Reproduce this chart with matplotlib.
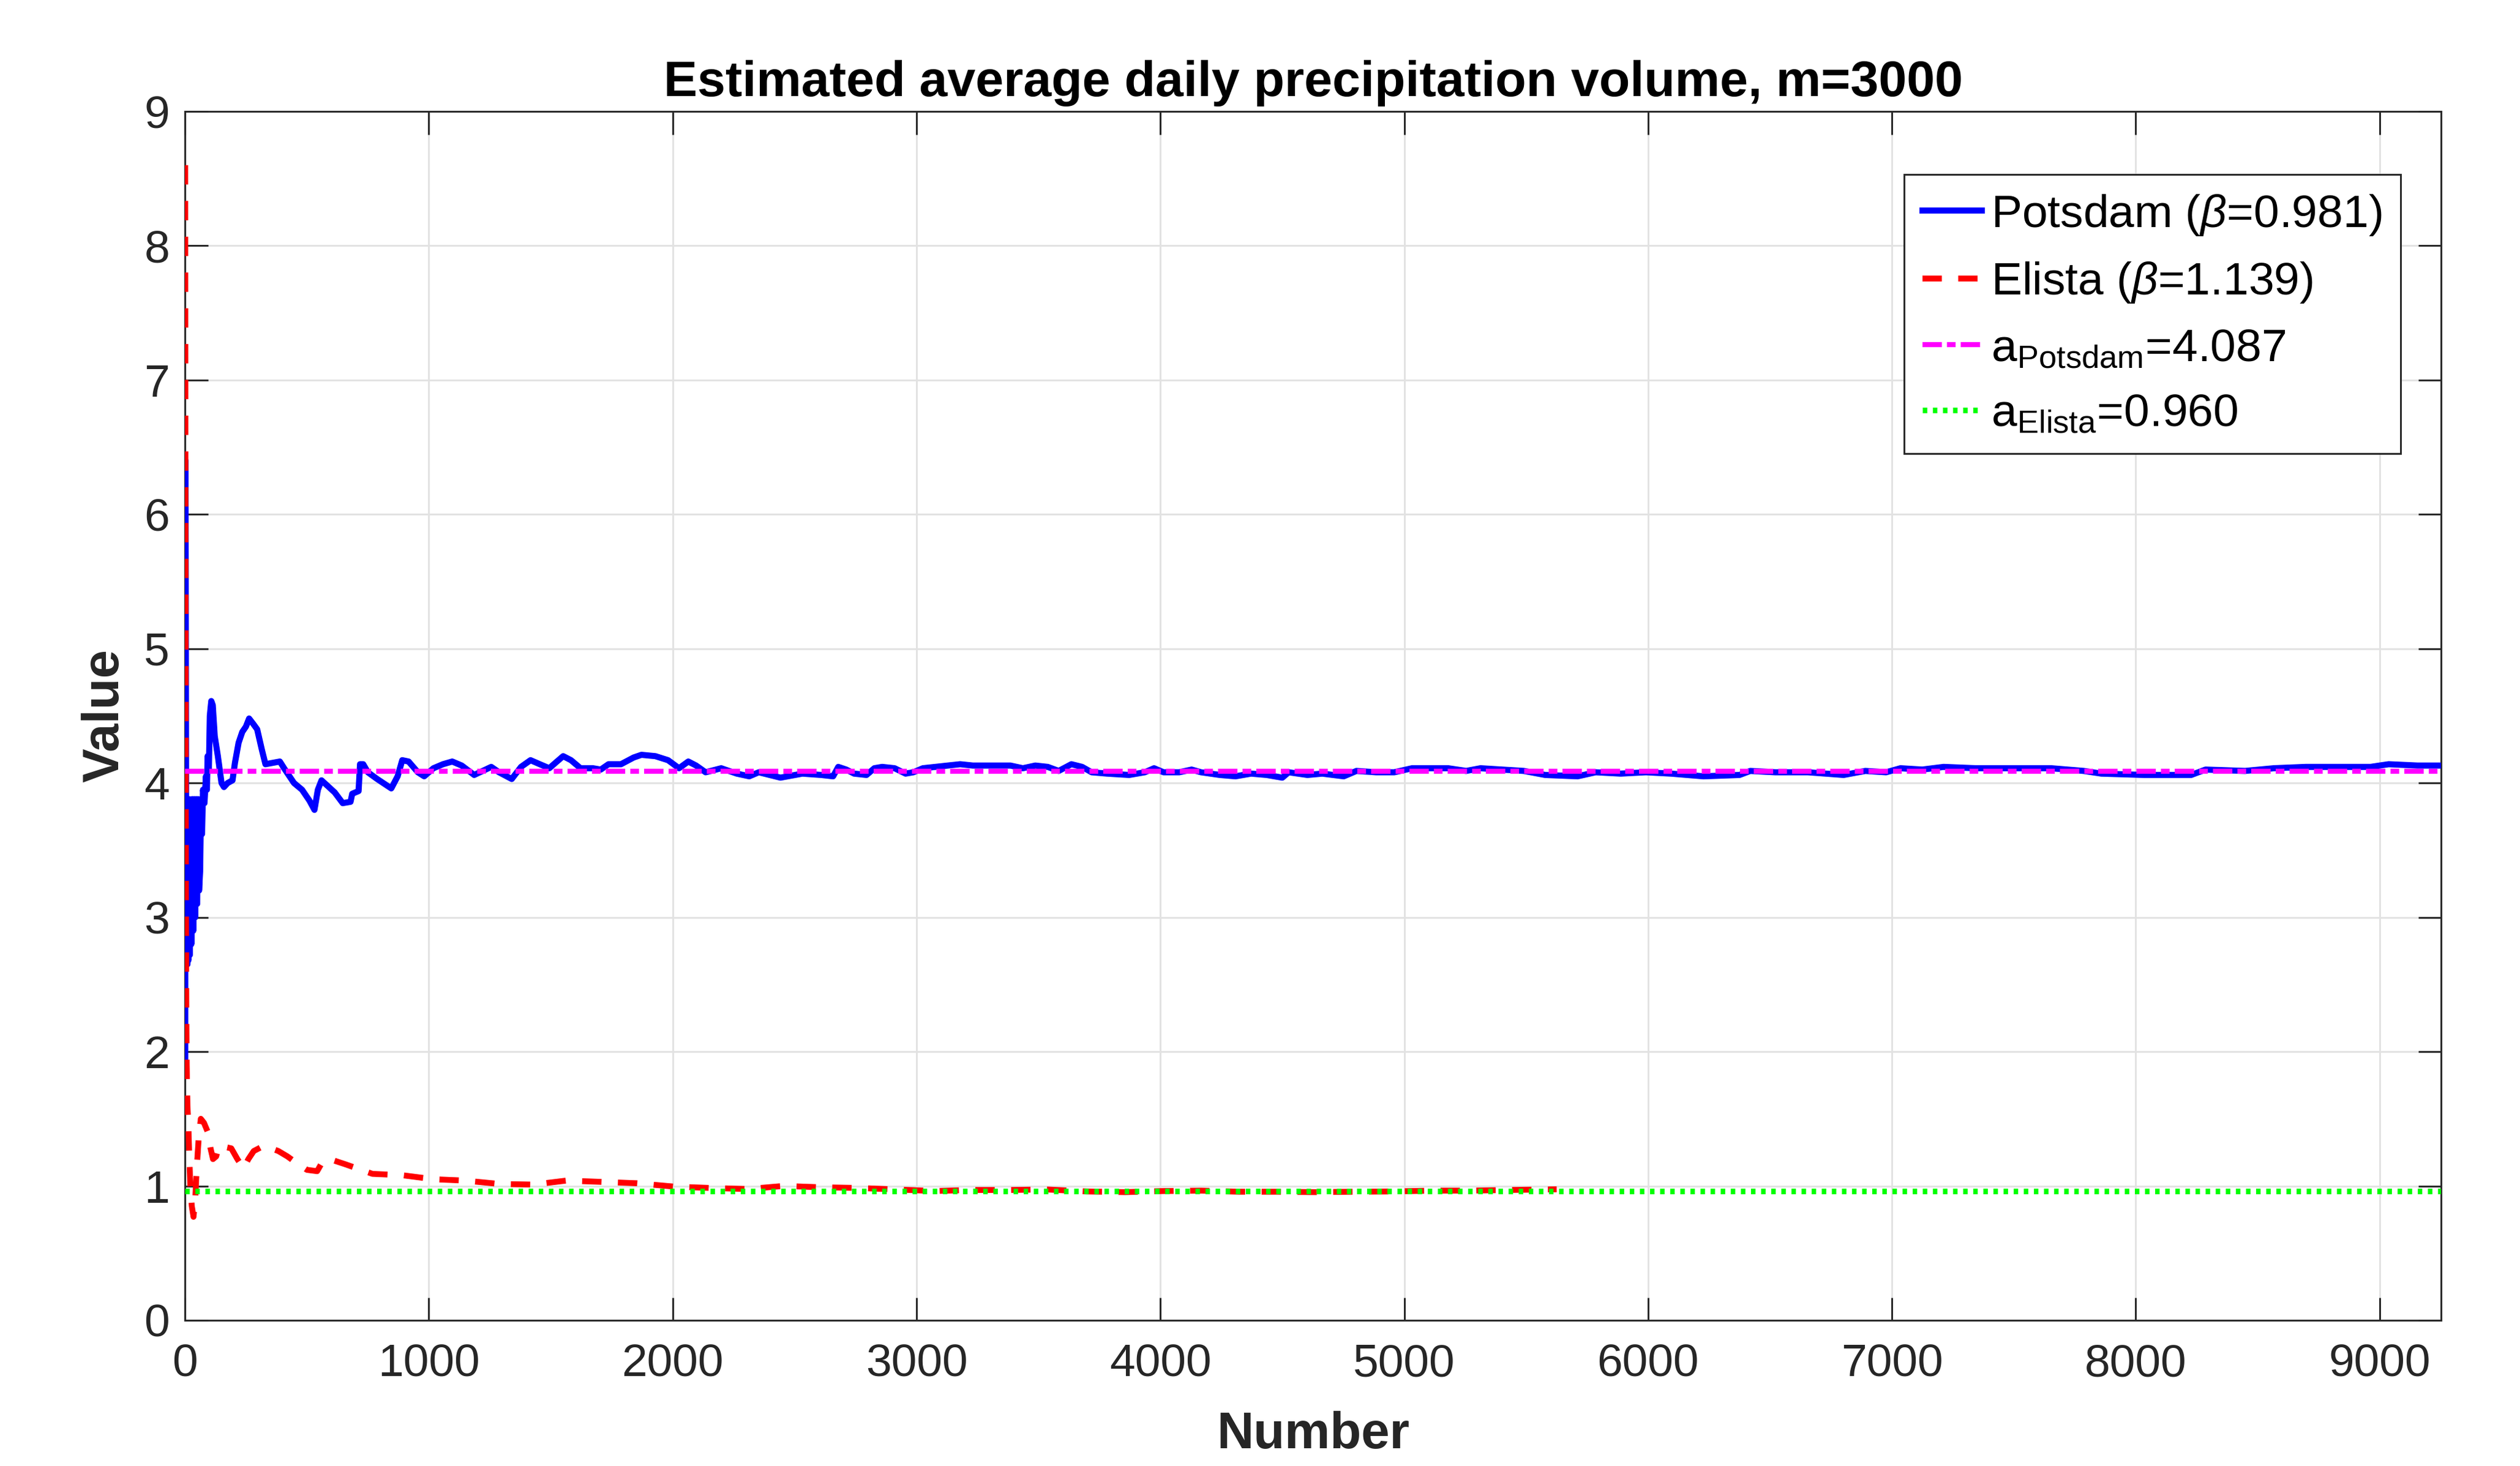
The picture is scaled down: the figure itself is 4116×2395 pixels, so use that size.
import numpy as np
import matplotlib
matplotlib.use("Agg")
import matplotlib.pyplot as plt

plt.rcParams['font.family'] = ['Liberation Sans', 'DejaVu Sans']
plt.rcParams['mathtext.fontset'] = 'custom'
plt.rcParams['mathtext.rm'] = 'Liberation Sans'
plt.rcParams['mathtext.it'] = 'Liberation Sans:italic'

# running estimates
potsdam_n = [1, 2, 3, 4, 5, 6, 8, 10, 12, 14, 17, 20, 23, 26, 30, 34, 38, 42, 46, 50,
             54, 58, 62, 66, 70, 74, 80, 86, 90, 93, 98, 102, 108, 114, 122, 135, 150, 160,
             175, 195, 205, 220, 235, 250, 263, 280, 296, 315, 330, 360, 389, 410, 447,
             480, 510, 531, 545, 560, 590, 614, 647, 679, 686, 712, 718, 731, 750, 788,
             846, 872, 891, 917, 955, 981, 1019, 1058, 1096, 1135, 1186, 1256, 1288, 1340,
             1378, 1417, 1455, 1494, 1519, 1551, 1583, 1622, 1673, 1705, 1737, 1788, 1840,
             1872, 1929, 1981, 2026, 2064, 2096, 2135, 2199, 2263, 2314, 2353, 2442, 2532,
             2609, 2658, 2679, 2712, 2744, 2795, 2827, 2859, 2910, 2955, 2987, 3026, 3077,
             3128, 3179, 3231, 3321, 3385, 3436, 3487, 3538, 3583, 3635, 3679, 3718, 3782,
             3872, 3936, 3974, 4013, 4077, 4128, 4167, 4244, 4308, 4372, 4436, 4500, 4526,
             4603, 4664, 4752, 4804, 4885, 4959, 5032, 5106, 5180, 5254, 5313, 5401, 5490,
             5578, 5711, 5785, 5888, 5991, 6094, 6227, 6375, 6419, 6522, 6655, 6802, 6891,
             6976, 7035, 7124, 7212, 7344, 7492, 7653, 7786, 7859, 8036, 8227, 8286, 8448,
             8566, 8698, 8845, 8963, 9037, 9155, 9252]
potsdam_v = [1.85, 6.4, 5.6, 4.4, 3.3, 2.7, 3.88, 2.65, 3.85, 2.68, 3.88, 2.72, 3.87, 2.8,
             3.88, 2.9, 3.88, 3.0, 3.88, 3.1, 3.88, 3.2, 3.34, 3.85, 3.62, 3.95, 3.85, 4.05,
             3.95, 4.2, 4.1, 4.5, 4.61, 4.58, 4.35, 4.2, 4.0, 3.97, 4.0, 4.02, 4.15, 4.3,
             4.38, 4.42, 4.48, 4.44, 4.40, 4.25, 4.14, 4.15, 4.16, 4.10, 4.00, 3.95, 3.87,
             3.80, 3.95, 4.02, 3.97, 3.93, 3.85, 3.86, 3.92, 3.94, 4.14, 4.14, 4.08, 4.03,
             3.96, 4.05, 4.17, 4.16, 4.08, 4.05, 4.11, 4.14, 4.16, 4.13, 4.06, 4.12, 4.08,
             4.03, 4.12, 4.17, 4.14, 4.11, 4.15, 4.20, 4.17, 4.11, 4.11, 4.10, 4.14, 4.14,
             4.19, 4.21, 4.20, 4.17, 4.11, 4.16, 4.13, 4.08, 4.11, 4.07, 4.05, 4.08, 4.04,
             4.07, 4.06, 4.05, 4.12, 4.10, 4.07, 4.06, 4.11, 4.12, 4.11, 4.07, 4.08, 4.11,
             4.12, 4.13, 4.14, 4.13, 4.13, 4.13, 4.11, 4.13, 4.12, 4.09, 4.14, 4.12, 4.08,
             4.07, 4.06, 4.08, 4.11, 4.08, 4.08, 4.10, 4.08, 4.06, 4.05, 4.07, 4.06, 4.04,
             4.08, 4.06, 4.07, 4.05, 4.09, 4.08, 4.08, 4.11, 4.11, 4.11, 4.09, 4.11, 4.10,
             4.09, 4.06, 4.05, 4.08, 4.07, 4.08, 4.07, 4.05, 4.06, 4.09, 4.08, 4.08, 4.06,
             4.09, 4.08, 4.11, 4.10, 4.12, 4.11, 4.11, 4.11, 4.09, 4.07, 4.06, 4.06, 4.10,
             4.09, 4.11, 4.12, 4.12, 4.12, 4.14, 4.13, 4.13]

elista_n = [1, 2, 3, 4, 5, 7, 10, 14, 18, 22, 28, 35, 42, 48, 56, 65, 78, 94, 105, 115,
            128, 140, 165, 190, 215, 240, 260, 282, 324, 383, 420, 466, 500, 542, 567, 610,
            660, 769, 891, 1019, 1147, 1288, 1429, 1564, 1712, 1853, 2006, 2154, 2308, 2455,
            2609, 2760, 2917, 3073, 3219, 3385, 3531, 3698, 3854, 4010, 4167, 4323, 4479,
            4635, 4792, 4948, 5115, 5271, 5427, 5625]
elista_v = [8.6, 6.0, 4.5, 3.2, 2.5, 1.9, 1.6, 1.45, 1.2, 1.0, 0.85, 0.77, 0.9, 1.12, 1.35,
            1.5, 1.47, 1.40, 1.28, 1.2, 1.22, 1.30, 1.29, 1.28, 1.2, 1.13, 1.2, 1.26, 1.30,
            1.26, 1.22, 1.16, 1.12, 1.11, 1.19, 1.19, 1.16, 1.09, 1.08, 1.05, 1.04, 1.015,
            1.01, 1.04, 1.03, 1.02, 0.995, 0.985, 0.977, 1.0, 0.99, 0.985, 0.974, 0.962,
            0.97, 0.97, 0.974, 0.959, 0.954, 0.962, 0.965, 0.957, 0.957, 0.954, 0.957,
            0.959, 0.965, 0.965, 0.97, 0.975]

a_potsdam = 4.087
a_elista = 0.960
beta_potsdam = 0.981
beta_elista = 1.139
x_max = 9252

fig = plt.figure(figsize=(4116 / 300, 2395 / 300), dpi=300)
ax = fig.add_axes([0.0734, 0.0994, 0.8953, 0.8246])

ax.plot(potsdam_n, potsdam_v, color='#0000ff', lw=2.4,
        label=r'Potsdam ($\beta$=%.3f)' % beta_potsdam, zorder=3)
ax.plot(elista_n, elista_v, color='#ff0000', lw=2.3, dashes=(3.3, 2.8),
        label=r'Elista ($\beta$=%.3f)' % beta_elista, zorder=4)
ax.axhline(a_potsdam, color='#ff00ff', lw=2.0, dashes=(3.8, 1.0, 1.7, 1.0),
           label=r'a$_{\mathrm{Potsdam}}$=%.3f' % a_potsdam, zorder=5)
ax.axhline(a_elista, color='#00ff00', lw=2.2, dashes=(0.8, 1.0),
           label=r'a$_{\mathrm{Elista}}$=%.3f' % a_elista, zorder=5)

ax.set_xlim(0, x_max)
ax.set_ylim(0, 9)
ax.set_xticks(np.arange(0, 9001, 1000))
ax.set_yticks(np.arange(0, 10, 1))
ax.grid(True, color='#e2e2e2', lw=0.7)
ax.set_axisbelow(True)

for s in ax.spines.values():
    s.set_color('#262626')
    s.set_linewidth(0.7)
ax.tick_params(direction='in', length=9, width=0.7, color='#262626',
               labelcolor='#262626', labelsize=18, top=True, right=True)
ax.tick_params(axis='x', pad=9)
ax.tick_params(axis='y', pad=6)

ax.set_title('Estimated average daily precipitation volume, m=3000',
             fontsize=19.8, fontweight='bold', pad=6)
ax.set_xlabel('Number', fontsize=20, fontweight='bold', color='#262626', labelpad=10)
ax.set_ylabel('Value', fontsize=20, fontweight='bold', color='#262626', labelpad=6)

leg = ax.legend(loc='upper right', bbox_to_anchor=(0.982, 0.948), fontsize=18,
                frameon=True, fancybox=False, framealpha=1, edgecolor='#262626',
                handlelength=1.3, handletextpad=0.2, borderpad=0.4,
                labelspacing=0.5, borderaxespad=0)
leg.get_frame().set_linewidth(0.7)

fig.savefig('out.png', dpi=300)
